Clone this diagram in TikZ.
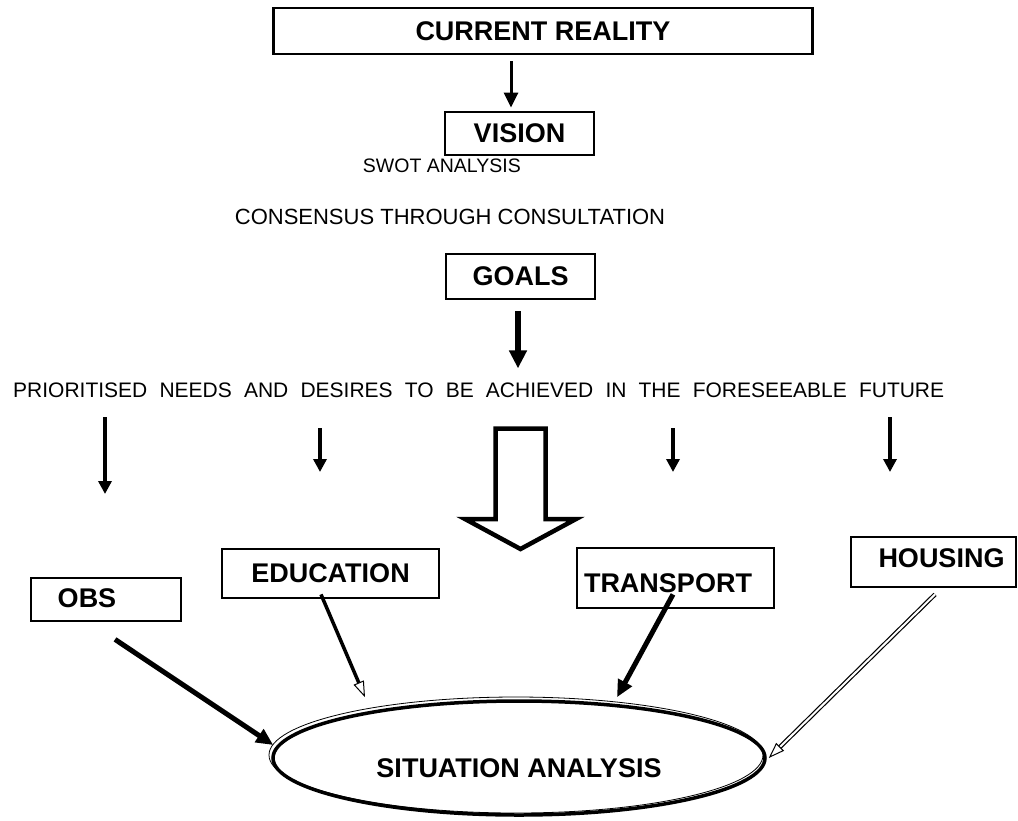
\documentclass[tikz,border=0pt]{standalone}
\usepackage{fontspec}
\setmainfont{Liberation Sans}
\usepackage{tikz}
\usetikzlibrary{arrows.meta,shapes.geometric,positioning}

\newcommand{\boxfont}{\fontsize{27}{30}\selectfont\bfseries}
\newcommand{\plainfont}{\fontsize{22}{24}\selectfont}
\newcommand{\smallfont}{\fontsize{19.5}{21}\selectfont}

\begin{document}
\begin{tikzpicture}[x=1pt,y=-1pt,
    box/.style={draw,line width=2.8pt,inner sep=0pt,font=\boxfont},
    plain/.style={inner sep=0pt,font=\plainfont},
    toparrow/.style={line width=3pt,-{Triangle[length=15pt,width=14pt]}},
    thickarrow/.style={line width=5.5pt,-{Triangle[length=18pt,width=17pt]}},
    needarrow/.style={line width=4pt,-{Triangle[length=13pt,width=13pt]}},
    feedarrow/.style={line width=5pt,-{Triangle[length=17pt,width=15pt]}},
    openarrow/.style={line width=3.5pt,-{Triangle[open,length=16pt,width=11pt,line width=1pt]}},
    hollowarrow/.style={line width=1.2pt,double=white,double distance=2pt,
        -{Triangle[open,length=16pt,width=11pt,line width=1pt]}}]
\useasboundingbox (0,0) rectangle (1018,820);

% top of the chain
\node[box,minimum width=539pt,minimum height=46pt] (cr) at (543,31) {CURRENT REALITY};
\node[box,minimum width=149pt,minimum height=43pt] (vision) at (519.5,133.5) {VISION};
\node[plain,font=\smallfont,anchor=base east] (swot) at (521,172) {SWOT ANALYSIS};
\node[plain,anchor=base] (consensus) at (450,224) {CONSENSUS THROUGH CONSULTATION};
\node[box,minimum width=149pt,minimum height=45pt] (goals) at (520.5,276.5) {GOALS};
\node[plain,font=\fontsize{21}{24}\selectfont,anchor=base west] (needs) at (13,397)
    {\makebox[931pt][s]{PRIORITISED NEEDS AND DESIRES TO BE ACHIEVED IN THE FORESEEABLE FUTURE}};

\draw[toparrow] ([xshift=-32pt,yshift=-6pt]cr.south) -- ([xshift=-8.5pt,yshift=3pt]vision.north);
\draw[thickarrow] ([xshift=-2.5pt,yshift=-11pt]goals.south) -- ([xshift=-2.5pt,yshift=-68pt]goals.south);

% arrows hanging under the needs line
\foreach \x/\a/\b [count=\i] in {105/417/494,320/428/472,673/428/472,890/417/472}{
    \coordinate (n\i) at (\x,\a);
    \coordinate (m\i) at (\x,\b);
    \draw[needarrow] (n\i) -- (m\i);
}

% big hollow arrow in the middle
\draw[line width=4.5pt,miter limit=20] (495.5,428.5) -- (545.5,428.5) -- (545.5,519) -- (576,519)
    -- (520.5,549) -- (465,519) -- (495.5,519) -- cycle;

% sectors
\node[box,minimum width=150pt,minimum height=43pt,text height=15pt,text depth=0pt] (obs) at (106,599.5) {OBS\hspace*{38pt}};
\node[box,minimum width=217pt,minimum height=49pt] (edu) at (330.5,573.5) {EDUCATION};
\node[box,minimum width=197pt,minimum height=60pt,text height=28pt,text depth=0pt] (trans) at (675.5,578) {TRANSPORT\hspace*{15pt}};
\node[box,minimum width=165pt,minimum height=50pt,text height=10pt,text depth=0pt] (hous) at (933.5,562) {\hspace*{16pt}HOUSING};

% situation analysis
\node[draw,ellipse,line width=3.5pt,minimum width=492pt,minimum height=114pt,inner sep=0pt,
    font=\boxfont,text height=38pt,text depth=0pt] (sit) at (519,758) {SITUATION ANALYSIS};
\draw[line width=0.8pt] ([shift={(-3pt,3pt)}]sit.center) ellipse [x radius=247,y radius=58];

\draw[feedarrow] ([xshift=9pt,yshift=-17pt]obs.south) -- ([xshift=2pt,yshift=13pt]sit.west);
\draw[openarrow] ([xshift=-9.5pt,yshift=5pt]edu.south) -- ([xshift=-154pt,yshift=2pt]sit.north);
\draw[feedarrow] ([xshift=-2.5pt,yshift=15pt]trans.south) -- ([xshift=98pt,yshift=2pt]sit.north);
\draw[hollowarrow] ([xshift=1.5pt,yshift=-6pt]hous.south) -- ([xshift=2pt]sit.east);
\end{tikzpicture}
\end{document}
